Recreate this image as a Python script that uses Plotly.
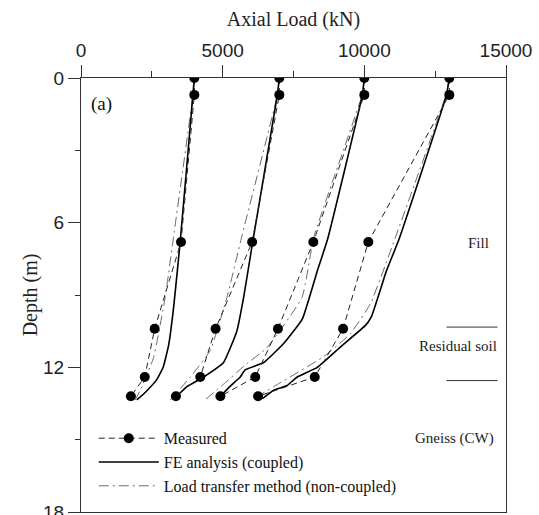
import plotly.graph_objects as go

# Depths (m) of the measured gauge levels along each pile
depth_measured = [0, 0.7, 6.8, 10.4, 12.4, 13.2]

# Measured axial load (kN) for the four head-load stages
measured_4000 = [4000, 4000, 3530, 2600, 2250, 1760]
measured_7000 = [7000, 7000, 6040, 4750, 4210, 3350]
measured_10000 = [10000, 10000, 8200, 6950, 6150, 4920]
measured_13000 = [13000, 13000, 10140, 9250, 8250, 6250]

# FE analysis (coupled): depth / load pairs
fe_depth_4000 = [0, 0.7, 6.8, 9.5, 11.1, 12.0, 12.5, 13.0, 13.35]
fe_load_4000 = [4000, 3950, 3500, 3270, 3090, 2900, 2680, 2300, 1970]
fe_depth_7000 = [0, 0.7, 6.8, 9.1, 10.5, 11.8, 12.4, 12.8, 13.25]
fe_load_7000 = [7000, 6930, 6060, 5740, 5500, 5030, 4330, 3740, 3330]
fe_depth_10000 = [0, 0.7, 6.7, 8.0, 10.0, 11.0, 11.8, 12.1, 12.4, 12.8, 13.2]
fe_load_10000 = [10000, 9930, 8700, 8340, 7810, 7160, 6450, 5800, 5620, 5250, 4920]
fe_depth_13000 = [0, 0.7, 6.7, 8.0, 9.9, 10.25, 11.15, 12.0, 12.4, 12.75, 12.95, 13.3]
fe_load_13000 = [13000, 12900, 11220, 10780, 10250, 10050, 9160, 8340, 7630, 7280, 6800, 6400]

# Load transfer method (non-coupled): depth / load pairs
lt_depth_4000 = [0, 0.7, 6.6, 9.1, 11.6, 12.95, 13.35]
lt_load_4000 = [4000, 3950, 3265, 2970, 2560, 2090, 1910]
lt_depth_7000 = [0, 0.7, 6.5, 9.1, 11.3, 12.4, 13.36]
lt_load_7000 = [7000, 6930, 5690, 5150, 4560, 3860, 3150]
lt_depth_10000 = [0, 0.7, 6.6, 9.1, 11.2, 11.85, 12.7, 13.4]
lt_load_10000 = [10000, 9920, 8220, 7800, 6550, 5850, 5030, 4330]
lt_depth_13000 = [0, 0.7, 6.6, 9.35, 10.6, 11.55, 12.8, 13.3]
lt_load_13000 = [13000, 12880, 11100, 10220, 9510, 8570, 6800, 6100]

# Soil profile: layer labels, where they sit, and layer boundaries
layer_names = ["Fill", "Residual soil", "Gneiss (CW)"]
layer_label_depths = [6.85, 11.1, 14.95]
layer_label_right = [14470, 14750, 14650]
layer_boundaries = [10.33, 12.55]

x_ticks = [0, 5000, 10000, 15000]
y_ticks = [0, 6, 12, 18]

SERIF = "Liberation Serif, Times New Roman, serif"
SANS = "Liberation Sans, Arial, sans-serif"

fig = go.Figure()

groups = [
    (measured_4000, fe_depth_4000, fe_load_4000, lt_depth_4000, lt_load_4000),
    (measured_7000, fe_depth_7000, fe_load_7000, lt_depth_7000, lt_load_7000),
    (measured_10000, fe_depth_10000, fe_load_10000, lt_depth_10000, lt_load_10000),
    (measured_13000, fe_depth_13000, fe_load_13000, lt_depth_13000, lt_load_13000),
]

for i, (meas, fed, fel, ltd, ltl) in enumerate(groups):
    first = i == 0
    fig.add_trace(go.Scatter(
        x=ltl, y=ltd, mode="lines", name="Load transfer method (non-coupled)",
        legendgroup="lt", showlegend=first, legendrank=3,
        line=dict(color="#6a6a6a", width=1, dash="10px,4px,2px,4px",
                  shape="spline", smoothing=0.4),
    ))
    fig.add_trace(go.Scatter(
        x=fel, y=fed, mode="lines", name="FE analysis (coupled)",
        legendgroup="fe", showlegend=first, legendrank=2,
        line=dict(color="black", width=1.6, shape="spline", smoothing=0.35),
    ))
    fig.add_trace(go.Scatter(
        x=meas, y=depth_measured, mode="lines+markers", name="Measured",
        legendgroup="meas", showlegend=first, legendrank=1,
        line=dict(color="#222", width=1, dash="6px,4px"),
        marker=dict(color="black", size=10),
    ))

for d in layer_boundaries:
    fig.add_shape(type="line", x0=12900, x1=14700, y0=d, y1=d,
                  line=dict(color="#333", width=1))

for name, d, xr in zip(layer_names, layer_label_depths, layer_label_right):
    fig.add_annotation(x=xr, y=d, text=name, showarrow=False,
                       xanchor="right", yanchor="middle",
                       font=dict(family=SERIF, size=15, color="#222"))

fig.add_annotation(x=0.018, y=0.94, xref="paper", yref="paper", text="(a)",
                   showarrow=False, xanchor="left", yanchor="middle",
                   font=dict(family=SERIF, size=19, color="#111"))

fig.update_layout(
    width=539, height=515,
    margin=dict(l=81, r=33, t=78, b=3, autoexpand=False),
    paper_bgcolor="white", plot_bgcolor="white",
    legend=dict(x=0.03, y=0.209, xanchor="left", yanchor="top",
                bgcolor="rgba(0,0,0,0)", itemwidth=60,
                font=dict(family=SERIF, size=16, color="#111"),
                tracegroupgap=0),
    xaxis=dict(
        side="top", range=[0, 15000], tickvals=x_ticks, automargin=False,
        ticktext=[str(v) for v in x_ticks],
        ticks="outside", ticklen=12, tickwidth=1, tickcolor="#333",
        minor=dict(dtick=2500, ticks="outside", ticklen=6, tickcolor="#333"),
        showline=True, linecolor="#333", linewidth=1, mirror=True,
        showgrid=False, zeroline=False,
        tickfont=dict(family=SANS, size=19, color="#222"),
        title=dict(text="Axial Load (kN)", standoff=8,
                   font=dict(family=SERIF, size=20, color="#222")),
    ),
    yaxis=dict(
        range=[18, 0], tickvals=y_ticks, ticklabeloverflow="allow",
        automargin=False,
        ticks="outside", ticklen=12, tickwidth=1, tickcolor="#333",
        minor=dict(dtick=3, ticks="outside", ticklen=5, tickcolor="#333"),
        showline=True, linecolor="#333", linewidth=1, mirror=True,
        showgrid=False, zeroline=False,
        tickfont=dict(family=SANS, size=19, color="#222"),
        title=dict(text="Depth (m)", standoff=0,
                   font=dict(family=SERIF, size=20, color="#222")),
    ),
)

fig.write_html("out.html")
